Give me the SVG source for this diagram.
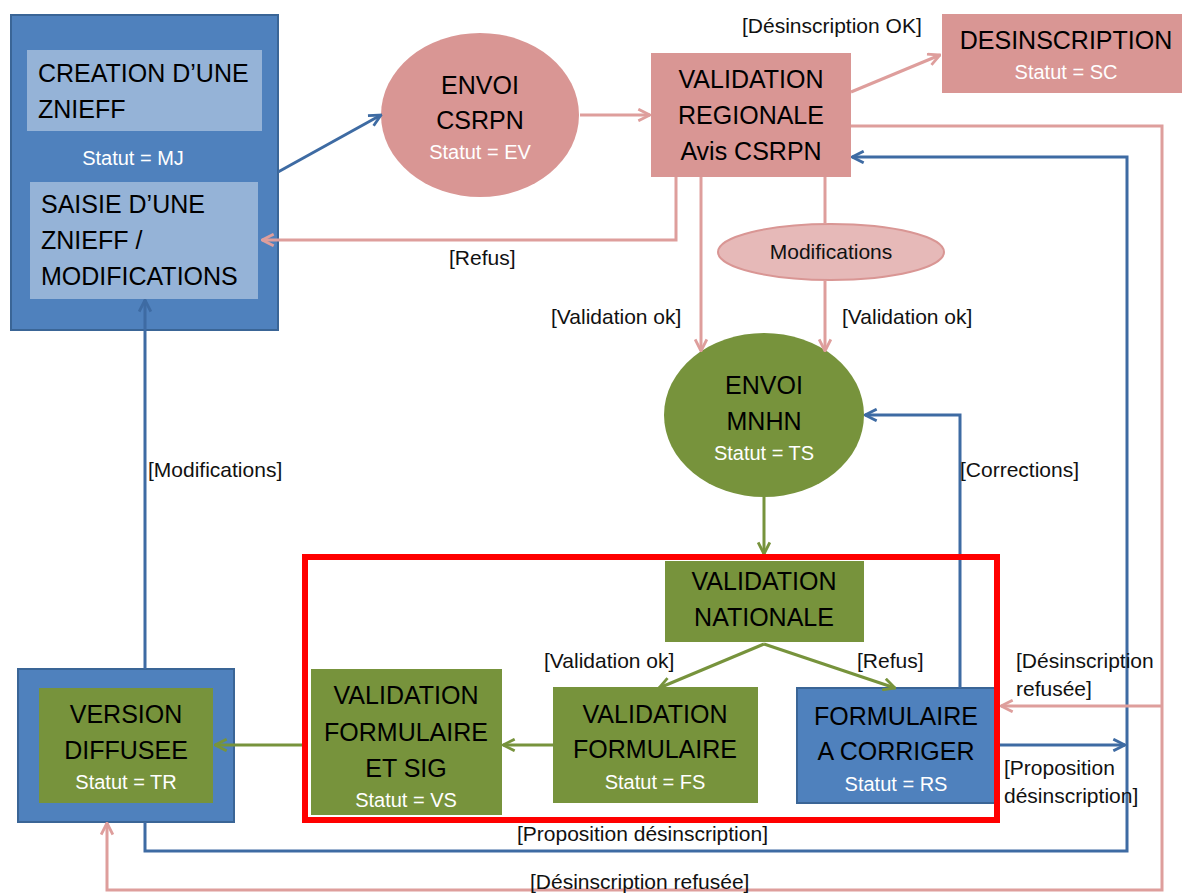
<svg xmlns="http://www.w3.org/2000/svg" width="1182" height="894" viewBox="0 0 1182 894">
<defs>
<style>
.big{font-family:"Liberation Sans",Arial,sans-serif;font-size:25px;fill:#000;text-anchor:middle}
.st{font-family:"Liberation Sans",Arial,sans-serif;font-size:20px;fill:#fff;text-anchor:middle}
.lbl{font-family:"Liberation Sans",Arial,sans-serif;font-size:21px;fill:#111}
.cb{fill:none;stroke:#3E6BA3;stroke-width:3}
.cp{fill:none;stroke:#DE9E9C;stroke-width:3}
.cg{fill:none;stroke:#77933C;stroke-width:3}
</style>
<marker id="ab" viewBox="0 0 12 12" refX="11" refY="6" markerWidth="14" markerHeight="14" markerUnits="userSpaceOnUse" orient="auto"><path d="M1,1 L11,6 L1,11" fill="none" stroke="#3E6BA3" stroke-width="2.4"/></marker>
<marker id="ap" viewBox="0 0 12 12" refX="11" refY="6" markerWidth="14" markerHeight="14" markerUnits="userSpaceOnUse" orient="auto"><path d="M1,1 L11,6 L1,11" fill="none" stroke="#DE9E9C" stroke-width="2.4"/></marker>
<marker id="ag" viewBox="0 0 12 12" refX="11" refY="6" markerWidth="14" markerHeight="14" markerUnits="userSpaceOnUse" orient="auto"><path d="M1,1 L11,6 L1,11" fill="none" stroke="#77933C" stroke-width="2.4"/></marker>
</defs>
<rect width="1182" height="894" fill="#fff"/>

<g id="n-creation">
<rect x="11" y="15" width="267" height="315" fill="#4F81BD" stroke="#3A6596" stroke-width="2"/>
<rect x="27" y="50" width="235" height="81" fill="#95B3D7"/>
<text class="big" x="38" y="82" style="text-anchor:start">CREATION D’UNE</text>
<text class="big" x="38" y="118" style="text-anchor:start">ZNIEFF</text>
<text class="st" x="133" y="165">Statut = MJ</text>
<rect x="30" y="182" width="228" height="117" fill="#95B3D7"/>
<text class="big" x="41" y="213" style="text-anchor:start">SAISIE D’UNE</text>
<text class="big" x="41" y="249" style="text-anchor:start">ZNIEFF /</text>
<text class="big" x="41" y="285" style="text-anchor:start">MODIFICATIONS</text>
</g>

<g id="n-envoi-csrpn">
<ellipse cx="480" cy="115" rx="99" ry="82" fill="#D99694"/>
<text class="big" x="480" y="94">ENVOI</text>
<text class="big" x="480" y="129">CSRPN</text>
<text class="st" x="480" y="159">Statut = EV</text>
</g>

<g id="n-validation-regionale">
<rect x="651" y="53" width="200" height="124" fill="#D99694"/>
<text class="big" x="751" y="88">VALIDATION</text>
<text class="big" x="751" y="124">REGIONALE</text>
<text class="big" x="751" y="160">Avis CSRPN</text>
</g>

<g id="n-desinscription">
<rect x="942" y="14" width="240" height="79" fill="#D99694"/>
<text class="big" x="1066" y="49">DESINSCRIPTION</text>
<text class="st" x="1066" y="79">Statut = SC</text>
</g>

<g id="n-modifications">
<ellipse cx="831" cy="252" rx="113" ry="28" fill="#E6B9B8" stroke="#D99694" stroke-width="2"/>
<text x="831" y="259" style="font-family:'Liberation Sans',Arial,sans-serif;font-size:21px;fill:#111;text-anchor:middle">Modifications</text>
</g>

<g id="n-envoi-mnhn">
<ellipse cx="764" cy="415" rx="100" ry="82" fill="#77933C"/>
<text class="big" x="764" y="394">ENVOI</text>
<text class="big" x="764" y="430">MNHN</text>
<text class="st" x="764" y="460">Statut = TS</text>
</g>

<g id="n-validation-nationale">
<rect x="665" y="561" width="199" height="81" fill="#77933C"/>
<text class="big" x="764" y="590">VALIDATION</text>
<text class="big" x="764" y="626">NATIONALE</text>
</g>

<g id="n-validation-formulaire">
<rect x="553" y="687" width="205" height="116" fill="#77933C"/>
<text class="big" x="655" y="723">VALIDATION</text>
<text class="big" x="655" y="758">FORMULAIRE</text>
<text class="st" x="655" y="789">Statut = FS</text>
</g>

<g id="n-formulaire-a-corriger">
<rect x="797" y="688" width="200" height="115" fill="#4F81BD" stroke="#3A6596" stroke-width="2"/>
<text class="big" x="896" y="725">FORMULAIRE</text>
<text class="big" x="896" y="760">A CORRIGER</text>
<text class="st" x="896" y="791">Statut = RS</text>
</g>

<g id="n-validation-formulaire-sig">
<rect x="311" y="669" width="191" height="146" fill="#77933C"/>
<text class="big" x="406" y="704">VALIDATION</text>
<text class="big" x="406" y="741">FORMULAIRE</text>
<text class="big" x="406" y="777">ET SIG</text>
<text class="st" x="406" y="807">Statut = VS</text>
</g>

<g id="n-version-diffusee">
<rect x="18" y="669" width="216" height="153" fill="#4F81BD" stroke="#3A6596" stroke-width="2"/>
<rect x="39" y="688" width="174" height="115" fill="#77933C"/>
<text class="big" x="126" y="723">VERSION</text>
<text class="big" x="126" y="759">DIFFUSEE</text>
<text class="st" x="126" y="789">Statut = TR</text>
</g>

<g id="connectors">
<path class="cb" d="M278,172 L381,115" marker-end="url(#ab)"/>
<path class="cp" d="M580,115 L650,115" marker-end="url(#ap)"/>
<path class="cp" d="M851,92 L940,55" marker-end="url(#ap)"/>
<path class="cp" d="M676,177 L676,240 L262,240" marker-end="url(#ap)"/>
<path class="cp" d="M701,177 L701,351" marker-end="url(#ap)"/>
<path class="cp" d="M825,177 L825,224"/>
<path class="cp" d="M825,280 L825,351" marker-end="url(#ap)"/>
<path class="cg" d="M764,497 L764,554" marker-end="url(#ag)"/>
<path class="cg" d="M764,644 L659,688" marker-end="url(#ag)"/>
<path class="cg" d="M764,644 L895,688" marker-end="url(#ag)"/>
<path class="cg" d="M553,745 L503,745" marker-end="url(#ag)"/>
<path class="cg" d="M305,745 L215,745" marker-end="url(#ag)"/>
<path class="cb" d="M960,688 L960,415 L865,415" marker-end="url(#ab)"/>
<path class="cb" d="M1000,745 L1125,745" marker-end="url(#ab)"/>
<path class="cb" d="M145,822 L145,851 L1127,851 L1127,157 L852,157" marker-end="url(#ab)"/>
<path class="cb" d="M145,669 L145,300" marker-end="url(#ab)"/>
<path class="cp" d="M851,126 L1162,126 L1162,890 L107,890 L107,823" marker-end="url(#ap)"/>
<path class="cp" d="M1162,706 L1001,706" marker-end="url(#ap)"/>
</g>

<g id="zone-nationale">
<rect x="305" y="557" width="692" height="263" fill="none" stroke="#FF0000" stroke-width="6"/>
</g>

<g id="labels">
<text class="lbl" x="742" y="33">[Désinscription OK]</text>
<text class="lbl" x="449" y="265">[Refus]</text>
<text class="lbl" x="551" y="324">[Validation ok]</text>
<text class="lbl" x="842" y="324">[Validation ok]</text>
<text class="lbl" x="960" y="477">[Corrections]</text>
<text class="lbl" x="148" y="477">[Modifications]</text>
<text class="lbl" x="544" y="668">[Validation ok]</text>
<text class="lbl" x="857" y="668">[Refus]</text>
<text class="lbl" x="1016" y="668">[Désinscription</text>
<text class="lbl" x="1016" y="696">refusée]</text>
<text class="lbl" x="1004" y="775">[Proposition</text>
<text class="lbl" x="1004" y="803">désinscription]</text>
<text class="lbl" x="517" y="841">[Proposition désinscription]</text>
<text class="lbl" x="530" y="889">[Désinscription refusée]</text>
</g>
</svg>
